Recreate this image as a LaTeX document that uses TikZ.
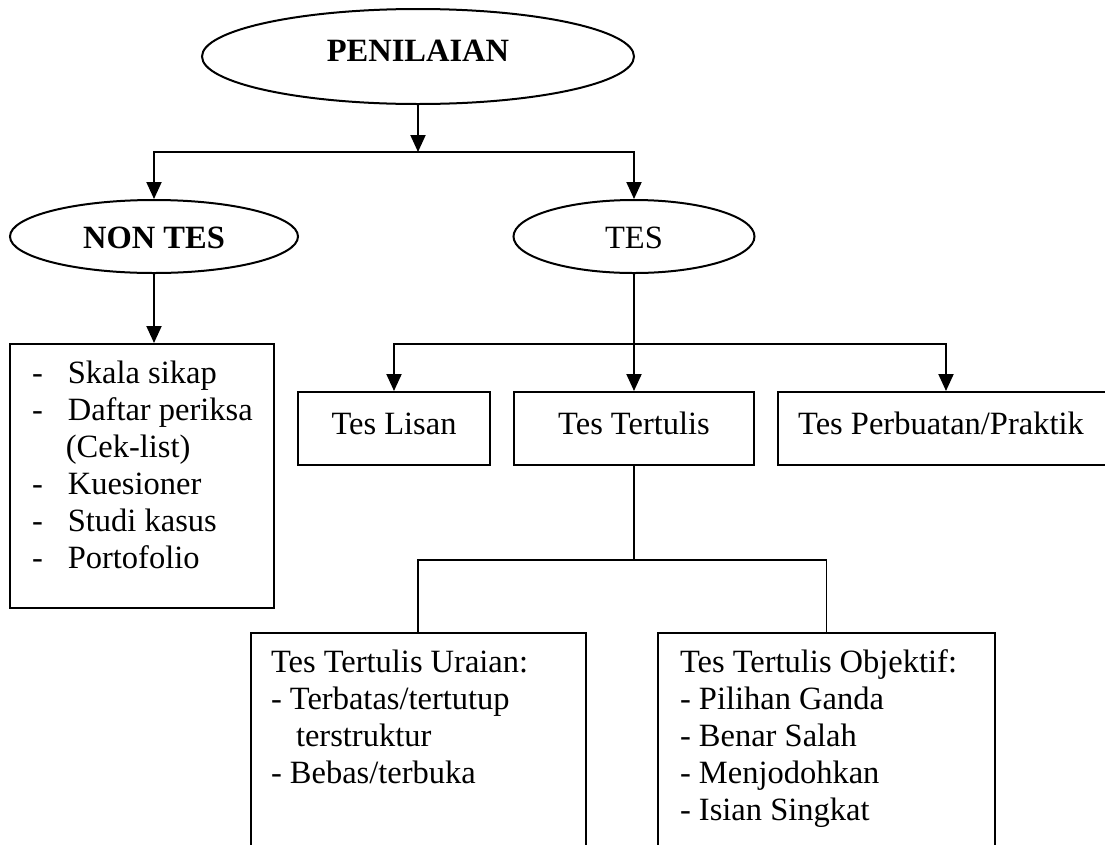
\documentclass[tikz,border=0pt]{standalone}
\usepackage{fontspec}
\setmainfont{Liberation Serif}
\usetikzlibrary{shapes.geometric,arrows.meta}
\begin{document}
\begin{tikzpicture}[x=1pt,y=-1pt, line width=2pt,
  every node/.style={font=\fontsize{32.5}{37}\selectfont},
  arr/.style={-{Triangle[length=17pt,width=15pt]}},
  thin/.style={line width=1.6pt},
  oval/.style={draw, ellipse, inner sep=0pt},
  box/.style={draw, rectangle, inner sep=0pt},
  txt/.style={anchor=base west, inner sep=0pt}]
\useasboundingbox (0,0) rectangle (1105,844);
\clip (0,0) rectangle (1105,844);

% ovals
\node[oval, minimum width=432pt, minimum height=95pt, text height=22pt, text depth=12pt,
      font=\fontsize{32.5}{37}\selectfont\bfseries] (pen) at (418,56.5) {PENILAIAN};
\node[oval, minimum width=288pt, minimum height=73pt, text height=23pt, text depth=0pt,
      font=\fontsize{32.5}{37}\selectfont\bfseries] (nontes) at (154,236.5) {NON TES};
\node[oval, minimum width=241pt, minimum height=73pt, text height=23pt, text depth=0pt] (tes) at (634,236.5) {TES};

% non tes list
\node[box, minimum width=264.4pt, minimum height=264pt] (nonlist) at (141.8,476) {};
\node[txt] (nonlisttext) at (31,383) {\begin{tabular}[t]{@{}l@{\hspace{25pt}}l@{}}
-&Skala sikap\\
-&Daftar periksa\\
 &\hspace*{-2pt}(Cek-list)\\
-&Kuesioner\\
-&Studi kasus\\
-&Portofolio
\end{tabular}};

% tes boxes
\node[box, minimum width=192pt, minimum height=73pt, text height=22pt, text depth=10pt] (lisan) at (394,428.5) {Tes Lisan};
\node[box, minimum width=240pt, minimum height=73pt, text height=22pt, text depth=10pt] (tertulis) at (634,428.5) {Tes Tertulis};
\node[box, minimum width=336pt, minimum height=73pt, text height=22pt, text depth=10pt] (perb) at (946,428.5) {\hspace*{-10pt}Tes Perbuatan/Praktik};

% bottom boxes
\node[box, minimum width=334.5pt, minimum height=300pt, anchor=north] (uraian) at (418.25,632) {};
\node[txt] (uraiantext) at (270,672) {\begin{tabular}[t]{@{}l@{}}
Tes Tertulis Uraian:\\
- Terbatas/tertutup\\
\hspace*{25pt}terstruktur\\
- Bebas/terbuka
\end{tabular}};
\node[box, minimum width=337pt, minimum height=300pt, anchor=north] (objektif) at (826.5,632) {};
\node[txt] (objektiftext) at (679,672) {\begin{tabular}[t]{@{}l@{}}
Tes Tertulis Objektif:\\
- Pilihan Ganda\\
- Benar Salah\\
- Menjodohkan\\
- Isian Singkat
\end{tabular}};

% connectors
\coordinate (j1) at (418,152);
\draw[arr] (pen.south) -- (j1);
\draw[arr] (j1) -| (nontes.north);
\draw[arr] (j1) -| (tes.north);
\draw[arr] (nontes.south) -- (nontes.south |- nonlist.north);
\draw[arr] (tes.south) -- (tertulis.north);
\coordinate (j2) at (634,344);
\draw[arr] (j2) -| (lisan.north);
\draw[arr] (j2) -| (perb.north);
\coordinate (j3) at (634,560);
\draw[thin] (tertulis.south) -- (j3);
\draw[thin] (j3) -| (uraian.north);
\draw[thin] (j3) -| (objektif.north);
\end{tikzpicture}
\end{document}
